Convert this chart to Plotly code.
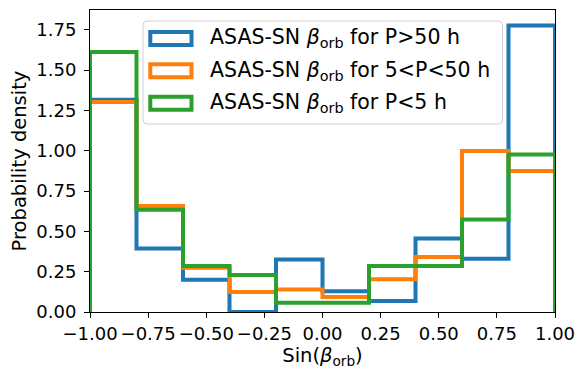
import plotly.graph_objects as go

# ---- data ----
bin_edges = [-1.0, -0.8, -0.6, -0.4, -0.2, 0.0, 0.2, 0.4, 0.6, 0.8, 1.0]
dens_long = [1.315, 0.393, 0.200, 0.0, 0.326, 0.128, 0.068, 0.455, 0.330, 1.776]
dens_mid = [1.301, 0.657, 0.275, 0.124, 0.140, 0.093, 0.203, 0.341, 0.998, 0.874]
dens_short = [1.611, 0.634, 0.285, 0.229, 0.058, 0.058, 0.285, 0.285, 0.574, 0.977]
series_names = [
    "ASAS-SN <i>β</i><sub>orb</sub> for P&gt;50 h",
    "ASAS-SN <i>β</i><sub>orb</sub> for 5&lt;P&lt;50 h",
    "ASAS-SN <i>β</i><sub>orb</sub> for P&lt;5 h",
]
series_colors = ["#1f77b4", "#ff7f0e", "#2ca02c"]
x_ticks = [-1.0, -0.75, -0.5, -0.25, 0.0, 0.25, 0.5, 0.75, 1.0]
x_ticktext = ["−1.00", "−0.75", "−0.50", "−0.25", "0.00", "0.25", "0.50", "0.75", "1.00"]
y_ticks = [0.0, 0.25, 0.5, 0.75, 1.0, 1.25, 1.5, 1.75]
y_ticktext = ["0.00", "0.25", "0.50", "0.75", "1.00", "1.25", "1.50", "1.75"]

W, H = 587, 380
ML, MR, MT, MB = 90, 32, 10, 68
PW, PH = W - ML - MR, H - MT - MB
FONT = "DejaVu Sans"
TICK_SIZE = 18
TITLE_SIZE = 19.5
LEG_SIZE = 20.5


def step_path(edges, vals):
    xs = [edges[0]]
    ys = [0.0]
    for i, v in enumerate(vals):
        xs += [edges[i], edges[i + 1]]
        ys += [v, v]
    xs.append(edges[-1])
    ys.append(0.0)
    return xs, ys


fig = go.Figure()
for vals, name, col in zip([dens_long, dens_mid, dens_short], series_names, series_colors):
    xs, ys = step_path(bin_edges, vals)
    fig.add_trace(go.Scatter(x=xs, y=ys, mode="lines", name=name,
                             line=dict(color=col, width=4), showlegend=False,
                             hoverinfo="skip"))


def px(x):
    return (x - ML) / PW


def py(y):
    return (H - MB - y) / PH


# legend drawn manually (matplotlib-style box with outline patches)
shapes = []
lx0, lx1, ly0, ly1, r = 143, 502.5, 21, 124, 4
path = (f"M {px(lx0 + r)},{py(ly0)} L {px(lx1 - r)},{py(ly0)} "
        f"Q {px(lx1)},{py(ly0)} {px(lx1)},{py(ly0 + r)} "
        f"L {px(lx1)},{py(ly1 - r)} Q {px(lx1)},{py(ly1)} {px(lx1 - r)},{py(ly1)} "
        f"L {px(lx0 + r)},{py(ly1)} Q {px(lx0)},{py(ly1)} {px(lx0)},{py(ly1 - r)} "
        f"L {px(lx0)},{py(ly0 + r)} Q {px(lx0)},{py(ly0)} {px(lx0 + r)},{py(ly0)} Z")
shapes.append(dict(type="path", xref="paper", yref="paper", path=path,
                   line=dict(color="#d0d0d0", width=1),
                   fillcolor="rgba(255,255,255,0.8)", layer="above"))
annotations = []
row_y = [38.5, 70.8, 103.2]
for i, (name, col) in enumerate(zip(series_names, series_colors)):
    cy = row_y[i]
    shapes.append(dict(type="rect", xref="paper", yref="paper",
                       x0=px(150.3), x1=px(191.5), y0=py(cy - 6.5), y1=py(cy + 6.5),
                       line=dict(color=col, width=4), fillcolor="rgba(0,0,0,0)",
                       layer="above"))
    annotations.append(dict(xref="paper", yref="paper", x=px(208), y=py(cy),
                            xanchor="left", yanchor="middle", text=name,
                            showarrow=False, font=dict(family=FONT, size=LEG_SIZE, color="black")))

fig.update_layout(
    width=W, height=H,
    margin=dict(l=ML, r=MR, t=MT, b=MB, pad=0),
    paper_bgcolor="white", plot_bgcolor="white",
    font=dict(family=FONT, size=TICK_SIZE, color="black"),
    shapes=shapes, annotations=annotations,
    showlegend=False,
)
fig.update_xaxes(range=[-1, 1], tickvals=x_ticks, ticktext=x_ticktext, automargin=False,
                 showgrid=False, zeroline=False, showline=True, mirror=True,
                 linecolor="black", linewidth=1, ticks="outside", ticklen=5,
                 tickcolor="black", tickfont=dict(family=FONT, size=TICK_SIZE),
                 title=dict(text="Sin(<i>β</i><sub>orb</sub>)",
                            font=dict(family=FONT, size=TITLE_SIZE), standoff=0))
fig.update_yaxes(range=[0, 1.872], tickvals=y_ticks, ticktext=y_ticktext, automargin=False,
                 showgrid=False, zeroline=False, showline=True, mirror=True,
                 linecolor="black", linewidth=1, ticks="outside", ticklen=5,
                 tickcolor="black", tickfont=dict(family=FONT, size=TICK_SIZE),
                 ticklabelstandoff=4,
                 title=dict(text="Probability density",
                            font=dict(family=FONT, size=TITLE_SIZE), standoff=4))

fig.write_html("out.html", config={"displayModeBar": False},
               post_script="document.body.style.margin='0px';")
